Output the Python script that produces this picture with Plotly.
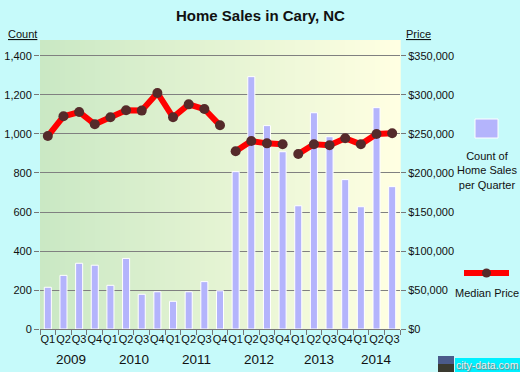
import plotly.graph_objects as go

quarters = ["Q1", "Q2", "Q3", "Q4"] * 5 + ["Q1", "Q2", "Q3"]
years = ["2009", "2010", "2011", "2012", "2013", "2014"]
year_pos = [1.5, 5.5, 9.5, 13.5, 17.3, 21]
sales_count = [214, 275, 337, 327, 224, 362, 178, 191, 142, 191, 243, 196,
               807, 1294, 1043, 909, 632, 1109, 986, 766, 627, 1135, 730]
median_price = [247400, 272700, 278200, 262400, 271400, 280400, 280000, 302600,
                271400, 288000, 282000, 261100,
                227800, 241000, 238000, 236800,
                224400, 236800, 235500, 244500, 236800, 250000, 250900]
# gaps in the price series between segments
price_line = median_price[:12] + [None] + median_price[12:16] + [None] + median_price[16:]
price_x = list(range(12)) + [11.5] + list(range(12, 16)) + [15.5] + list(range(16, 23))

count_ticks = [0, 200, 400, 600, 800, 1000, 1200, 1400]
count_labels = ["0", "200", "400", "600", "800", "1,000", "1,200", "1,400"]
price_ticks = [0, 50000, 100000, 150000, 200000, 250000, 300000, 350000]
price_labels = ["$0", "$50,000", "$100,000", "$150,000", "$200,000",
                "$250,000", "$300,000", "$350,000"]

x_idx = list(range(len(sales_count)))
ymax = 1482
font = "Liberation Sans, Arial, sans-serif"

fig = go.Figure()
fig.add_trace(go.Bar(x=x_idx, y=sales_count, width=0.45,
                     marker=dict(color="#b4b4fc", line=dict(color="white", width=1)),
                     showlegend=False))
fig.add_trace(go.Scatter(x=price_x, y=price_line, yaxis="y2", mode="lines+markers",
                         line=dict(color="#ff0000", width=6),
                         marker=dict(color="#552a2a", size=10),
                         connectgaps=False, showlegend=False))

W = 360.0  # plot width in px
H = 289.0  # plot height in px


def px(x):
    return (x - 40) / W


def py(y):
    return (329 - y) / H


# gradient background for the plot area
shapes = []
n = 72
c0 = (202, 232, 196)
c1 = (255, 255, 226)
for i in range(n):
    t = i / (n - 1)
    c = tuple(round(c0[k] + (c1[k] - c0[k]) * t) for k in range(3))
    shapes.append(dict(type="rect", xref="paper", yref="paper",
                       x0=i / n, x1=(i + 1) / n + 0.002, y0=0, y1=1,
                       fillcolor="rgb(%d,%d,%d)" % c, line=dict(width=0), layer="below"))
# legend swatches
shapes.append(dict(type="rect", xref="paper", yref="paper",
                   x0=px(475), x1=px(498), y0=py(119), y1=py(138),
                   fillcolor="#b4b4fc", line=dict(color="white", width=1)))
shapes.append(dict(type="line", xref="paper", yref="paper",
                   x0=px(464), x1=px(509), y0=py(273), y1=py(273),
                   line=dict(color="#ff0000", width=6)))
shapes.append(dict(type="circle", xref="paper", yref="paper",
                   x0=px(482), x1=px(491), y0=py(268.5), y1=py(277.5),
                   fillcolor="#552a2a", line=dict(width=0)))
# logo
shapes.append(dict(type="rect", xref="paper", yref="paper",
                   x0=px(455), x1=px(520), y0=py(358), y1=py(372),
                   fillcolor="#00f0ff", line=dict(width=0)))
shapes.append(dict(type="rect", xref="paper", yref="paper",
                   x0=px(438), x1=px(454), y0=py(356), y1=py(372),
                   fillcolor="#4a5a8a", line=dict(width=0)))
shapes.append(dict(type="rect", xref="paper", yref="paper",
                   x0=px(438), x1=px(454), y0=py(364), y1=py(372),
                   fillcolor="#3a3a30", line=dict(width=0)))


def note(x, y, text, size=11, color="#111", **kw):
    return dict(x=x, y=y, xref="paper", yref="paper", text=text, showarrow=False,
                xanchor="center", yanchor="middle",
                font=dict(size=size, color=color, family=font, **kw))


annotations = []
for y, p in zip(years, year_pos):
    annotations.append(dict(x=p, y=py(359), xref="x", yref="paper", text=y, showarrow=False,
                            xanchor="center", yanchor="middle",
                            font=dict(size=13.5, color="#111", family=font)))
annotations += [
    note(px(260), py(15), "<b>Home Sales in Cary, NC</b>", size=15),
    note(px(22), py(34), "<u>Count</u>"),
    note(px(418), py(34), "<u>Price</u>"),
    note(px(487), py(170), "Count of<br>Home Sales<br>per Quarter"),
    note(px(487), py(293), "Median Price"),
    dict(x=px(487), y=py(364.5), xref="paper", yref="paper", text="city-data.com",
         showarrow=False, xanchor="center", yanchor="middle", borderpad=0,
         font=dict(size=10.5, color="#eeeeee", family=font, shadow="1px 1px 1px #777")),
]

fig.update_layout(
    width=520, height=372,
    margin=dict(l=40, r=120, t=40, b=43, autoexpand=False),
    paper_bgcolor="#c6fafa", plot_bgcolor="rgba(0,0,0,0)",
    font=dict(family=font, size=11, color="#111"),
    shapes=shapes, annotations=annotations,
    xaxis=dict(range=[-0.5, len(sales_count) - 0.5], tickvals=x_idx, ticktext=quarters,
               ticks="", tickangle=0, automargin=False, showgrid=False, showline=True,
               linecolor="#777", linewidth=1, tickfont=dict(size=11, color="#111"),
               minor=dict(tickvals=[i - 0.5 for i in range(len(sales_count) + 1)],
                          ticks="outside", ticklen=5, tickcolor="#777", showgrid=False),
               zeroline=False),
    yaxis=dict(range=[0, ymax], tickvals=count_ticks, ticktext=count_labels, ticks="outside",
               ticklen=5, tickcolor="#777", showgrid=True, gridcolor="#808080", gridwidth=1,
               zeroline=False, showline=False, automargin=False,
               tickfont=dict(size=11, color="#111")),
    yaxis2=dict(range=[0, ymax * 250], tickvals=price_ticks, ticktext=price_labels,
                overlaying="y", side="right", ticks="outside", ticklen=5, tickcolor="#777",
                showgrid=False, zeroline=False, automargin=False,
                tickfont=dict(size=11, color="#111")),
)

fig.write_html("out.html")
